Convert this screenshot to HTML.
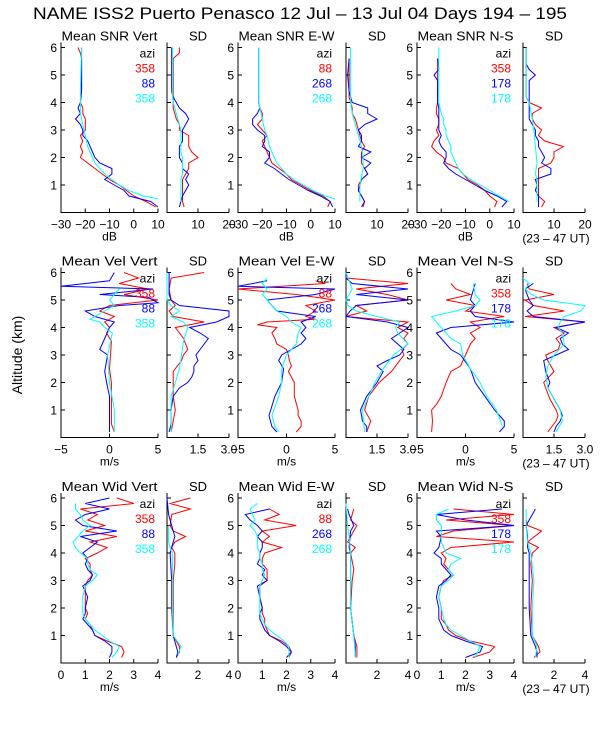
<!DOCTYPE html>
<html><head><meta charset="utf-8">
<style>
body{margin:0;background:#fff;}
svg{display:block;font-family:"Liberation Sans",sans-serif;}
</style></head>
<body>
<svg id="chart" width="600" height="750" viewBox="0 0 600 750">
<rect width="600" height="750" fill="#fff"/>
<text x="33" y="19" font-size="16.5" textLength="534" lengthAdjust="spacingAndGlyphs">NAME ISS2 Puerto Penasco  12 Jul – 13 Jul 04 Days 194 – 195</text>
<text x="0" y="0" font-size="14" text-anchor="middle" transform="translate(22,355) rotate(-90)">Altitude (km)</text>
</svg>
<script>
// ---- data: each series is [altitude_km, value] pairs ----
const snrVertRed=[[0.2,9],[0.4,5],[0.6,0],[0.8,-3],[1.0,-6],[1.2,-10],[1.4,-13],[1.6,-16],[1.8,-19],[2.0,-22],[2.2,-21],[2.4,-22],[2.6,-21],[2.8,-22],[3.0,-20],[3.2,-20],[3.4,-20],[3.6,-21],[3.8,-21],[4.0,-22],[4.4,-21.5],[5.0,-21.5],[5.6,-21.5],[5.8,-22],[6.0,-23]];
const snrVertBlue=[[0.2,10],[0.4,7],[0.6,-2],[0.8,-4],[1.0,-8],[1.2,-12],[1.4,-9],[1.6,-9],[1.8,-14],[2.0,-16],[2.2,-17],[2.4,-18],[2.6,-19],[2.8,-21],[3.0,-21],[3.2,-22],[3.4,-24],[3.6,-22],[3.8,-23],[4.0,-22],[4.5,-21.5],[5.5,-21.5],[6.0,-21.5]];
const snrVertCyan=[[0.5,10],[0.6,4],[0.8,-2],[1.0,-6],[1.2,-9],[1.4,-12],[1.6,-14],[1.8,-16],[2.0,-17],[2.2,-18],[2.4,-19],[2.6,-19.5],[2.8,-20],[3.0,-20.5],[3.2,-21],[3.4,-21.5],[3.6,-22],[4.5,-22],[6.0,-21.5]];
const sdSnrVertRed=[[0.2,5.5],[0.4,5],[0.8,5],[1.2,5],[1.4,6],[1.6,7],[1.8,7],[2.0,10],[2.2,8],[2.4,7],[2.6,7],[2.8,7],[3.0,4],[3.2,4],[3.4,3],[3.6,2.5],[3.8,2],[4.0,2],[5.6,2],[5.8,4],[6.0,4]];
const sdSnrVertBlue=[[0.2,4],[0.4,4.5],[0.6,5],[0.8,6],[1.0,7],[1.2,6],[1.4,7],[1.6,5],[1.8,5],[2.0,4],[2.2,4],[2.4,4],[2.6,5],[2.8,5],[3.0,5],[3.2,6],[3.4,7],[3.6,6],[3.8,4],[4.0,3],[4.2,2],[4.4,1.5],[6.0,1.5]];
const sdSnrVertCyan=[[0.4,4.5],[1.2,4.5],[1.4,5],[2.0,5],[2.2,4.5],[3.0,4.5],[3.2,4],[3.4,3.5],[3.6,3],[3.8,2.5],[4.0,2],[4.2,1.8],[6.0,1.8]];
const snrEWRed=[[0.2,7],[0.4,8],[0.6,5],[0.8,0],[1.0,-4],[1.2,-8],[1.4,-10],[1.6,-13],[1.8,-16],[2.0,-17],[2.2,-18],[2.4,-19],[2.6,-20],[2.8,-18],[3.0,-20],[3.2,-22],[3.4,-20],[3.6,-20],[3.8,-21],[4.0,-21.5],[6.0,-21.5]];
const snrEWBlue=[[0.2,9],[0.4,8],[0.6,4],[0.8,-1],[1.0,-5],[1.2,-9],[1.4,-12],[1.6,-15],[1.8,-19],[2.0,-17],[2.2,-17],[2.4,-20],[2.6,-19],[2.8,-19],[3.0,-22],[3.2,-24],[3.4,-24],[3.6,-22],[3.8,-21],[4.0,-21.5],[6.0,-21.5]];
const snrEWCyan=[[0.5,10],[0.6,6],[0.8,1],[1.0,-3],[1.2,-7],[1.4,-10],[1.6,-12],[1.8,-14],[2.0,-15],[2.2,-16],[2.4,-17],[2.6,-17.5],[2.8,-18],[3.0,-19],[3.2,-19.5],[3.4,-20],[3.6,-20.5],[3.8,-21],[4.0,-21.5],[6.0,-21.5]];
const sdSnrEWRed=[[0.2,5.5],[0.4,6],[0.6,5],[0.8,4],[1.0,4],[1.2,5],[1.4,7],[1.6,6],[1.8,5],[2.0,5],[2.2,5],[2.4,6],[2.6,5],[2.8,4.5],[3.0,4],[3.2,3.5],[3.4,3],[3.6,2],[3.8,2],[4.0,1.5],[4.2,1],[5.6,1]];
const sdSnrEWBlue=[[0.2,5],[0.4,6],[0.6,5],[0.8,4],[1.0,4.5],[1.2,5],[1.4,7],[1.6,6],[1.8,8],[2.0,5],[2.2,8],[2.4,4],[2.6,5],[2.8,5],[3.0,4],[3.2,6],[3.4,10],[3.6,7],[3.8,7],[4.0,2],[4.2,1.5],[4.4,1],[5.0,0.5],[5.6,1]];
const sdSnrEWCyan=[[0.4,4.5],[1.0,4.5],[1.6,5.5],[2.0,5.5],[2.4,5],[2.8,4],[3.2,3],[3.6,2],[4.0,1.5],[6.0,1.5]];
const snrNSRed=[[0.2,2],[0.4,3],[0.6,0],[0.8,-2],[1.0,-5],[1.2,-9],[1.4,-11],[1.6,-13],[1.8,-18],[2.0,-19],[2.2,-22],[2.4,-24],[2.6,-23],[2.8,-21],[3.0,-22],[3.2,-21],[3.4,-21],[3.6,-22],[3.8,-22],[4.0,-21.5],[5.6,-21.5]];
const snrNSBlue=[[0.2,5],[0.4,7],[0.6,3],[0.8,-2],[1.0,-6],[1.2,-10],[1.4,-14],[1.6,-17],[1.8,-19],[2.0,-18],[2.2,-18],[2.4,-20],[2.6,-21],[2.8,-20],[3.0,-21],[3.8,-21],[4.0,-21.5],[4.8,-21.5],[5.0,-23],[5.2,-21],[5.6,-21.5]];
const snrNSCyan=[[0.4,8],[0.6,4],[0.8,0],[1.0,-4],[1.2,-8],[1.4,-11],[1.6,-13],[1.8,-14],[2.0,-15],[2.2,-16],[2.4,-16],[2.6,-17],[2.8,-18],[3.0,-18],[3.2,-19],[3.4,-19],[3.6,-20],[3.8,-20.5],[4.0,-21],[6.0,-21]];
const sdSnrNSRed=[[0.2,6],[0.4,7],[0.6,5],[1.6,5],[1.8,9],[2.0,10],[2.2,10],[2.4,13],[2.6,7],[2.8,5],[3.0,6],[3.2,4],[3.4,3],[3.6,3],[3.8,6],[4.0,2],[4.2,1],[6.0,1]];
const sdSnrNSBlue=[[0.2,5],[0.6,5],[0.8,4],[1.0,4.5],[1.2,4],[1.4,9],[1.6,9],[1.8,6],[2.0,7],[2.2,6],[2.4,5],[2.6,5],[2.8,4],[3.0,4],[3.2,3],[3.4,2],[4.8,2],[5.0,4],[5.2,2],[5.4,1],[6.0,1]];
const sdSnrNSCyan=[[0.4,4.5],[1.2,4.5],[1.4,4],[1.8,4.5],[2.4,4],[3.0,3.5],[3.4,3],[4.0,2],[4.2,1],[6.0,1]];
const velVertRed=[[0.2,0.5],[0.5,0.2],[2.0,0.2],[2.5,0],[3.0,0.1],[3.5,0.2],[3.8,-0.3],[4.0,0],[4.2,-0.5],[4.4,0.5],[4.6,-1],[4.8,0],[5.0,5],[5.2,1.5],[5.4,4],[5.6,1],[5.8,3],[6.0,1.5]];
const velVertBlue=[[0.2,0],[1.0,0],[1.5,0],[2.0,-0.3],[2.4,-0.5],[3.0,-0.2],[3.2,-1],[3.6,-0.5],[4.0,0],[4.2,0.5],[4.4,-1.5],[4.6,-2.5],[4.8,1],[4.9,5],[5.1,4],[5.2,-1],[5.4,4.5],[5.5,-5],[5.7,0],[6.0,0.5]];
const velVertCyan=[[0.2,0.5],[1.0,0.5],[2.0,0],[3.0,-0.2],[3.8,0.3],[4.0,-0.5],[4.2,-1],[4.3,-2],[4.4,-1.5],[4.6,-0.5],[4.8,0.5],[5.0,0],[5.2,0.5],[5.4,1]];
const sdVelVertRed=[[0.2,0.2],[1.0,0.4],[1.5,0.3],[2.4,0.3],[2.6,0.5],[2.8,0.7],[3.0,0.8],[3.2,1.0],[3.4,0.9],[3.6,0.8],[3.8,0.6],[4.0,0.4],[4.2,1.8],[4.4,0.3],[4.6,0.1],[4.8,0.4],[5.0,0.2],[5.4,0.1],[5.8,0.2],[6.0,1.8]];
const sdVelVertBlue=[[0.2,0.1],[0.5,0.2],[1.0,0.2],[1.5,0.3],[1.8,0.6],[2.0,1.0],[2.2,1.2],[2.4,1.3],[2.6,1.3],[2.8,1.5],[3.0,1.4],[3.2,1.6],[3.4,1.8],[3.6,2.0],[3.8,1.6],[4.0,1.1],[4.2,2.4],[4.4,3.0],[4.6,3.0],[4.8,0.6],[5.0,0.2],[5.2,0.1],[6.0,0.1]];
const sdVelVertCyan=[[0.2,0.2],[1.5,0.2],[2.0,0.4],[2.5,0.6],[3.0,0.7],[3.5,0.8],[4.0,1.0],[4.2,0.8],[4.4,0.2],[4.6,0.6],[4.8,0.2],[5.0,0],[6.0,0]];
const velEWRed=[[0.2,1],[0.4,1.5],[0.6,1.5],[0.8,1.2],[1.0,1.2],[1.5,0.8],[2.0,0.8],[2.4,0.2],[2.6,0.5],[2.8,0.3],[3.0,0.2],[3.2,0],[3.4,-1],[3.6,-1.2],[3.8,-1.5],[4.0,-1],[4.1,-3],[4.2,-2],[4.3,3],[4.4,2],[4.6,3],[4.8,2],[5.0,5],[5.2,1],[5.4,-5],[5.6,4],[5.7,3]];
const velEWBlue=[[0.2,-1],[0.4,-1.5],[0.8,-1.8],[1.5,-1.2],[2.0,-0.5],[2.5,-0.3],[2.8,-0.8],[3.0,-0.5],[3.2,0.5],[3.4,1.5],[3.6,2],[3.8,1.5],[4.0,2],[4.2,1.5],[4.4,3],[4.6,-1],[4.8,-1.5],[5.0,-2],[5.2,3],[5.4,5],[5.5,-5],[5.7,-2]];
const velEWCyan=[[0.2,-0.8],[0.4,-1.2],[0.8,-1.5],[1.5,-0.8],[2.0,-0.5],[2.5,-0.5],[3.0,0],[3.4,1],[3.8,1.2],[4.0,1.5],[4.2,0.5],[4.4,0],[4.6,-1],[4.8,-1.5],[5.0,-2],[5.2,-2.5],[5.4,-2],[5.6,-2.5],[5.8,-2]];
const sdVelEWRed=[[0.2,1],[0.4,1.1],[0.6,1.2],[1.0,0.9],[1.5,1.1],[2.0,1.6],[2.4,2.2],[2.8,2.6],[3.0,2.8],[3.2,2.7],[3.4,3.0],[3.6,2.8],[3.8,3.0],[4.0,2.5],[4.2,3.0],[4.4,0],[4.6,1.0],[4.8,0.5],[5.0,3.0],[5.2,2.0],[5.4,0.5],[5.6,3.0],[5.8,0]];
const sdVelEWBlue=[[0.2,1.0],[0.4,1.0],[0.6,0.8],[1.0,0.7],[1.5,1.0],[2.0,1.5],[2.4,1.8],[2.6,1.5],[2.8,2.0],[3.0,2.6],[3.2,2.8],[3.4,2.5],[3.6,2.2],[3.8,2.6],[4.0,3.0],[4.2,2.0],[4.4,0],[4.6,0.2],[4.8,0.5],[5.0,3.0],[5.2,0.5],[5.4,3.0],[5.6,0.3],[5.8,0],[6.0,0]];
const sdVelEWCyan=[[0.2,0.9],[1.0,0.8],[1.5,1.1],[2.0,1.4],[2.5,1.8],[3.0,2.3],[3.4,3.0],[3.8,2.5],[4.0,2.4],[4.2,2.6],[4.4,1.5],[4.6,0.5],[4.8,0.1],[5.0,0],[5.4,0.3],[5.8,0.1],[6.0,0]];
const velNSRed=[[0.2,-3.5],[0.6,-3.4],[1.0,-3.5],[1.2,-3],[1.5,-2.5],[2.0,-2],[2.4,-1.5],[2.6,-0.5],[3.0,0],[3.4,0.5],[3.6,1],[3.8,0.5],[4.0,1.5],[4.2,0.5],[4.4,4],[4.6,0],[4.8,1],[5.0,-2],[5.2,0.5],[5.4,-1],[5.6,-1.5]];
const velNSBlue=[[0.2,3.5],[0.4,4],[0.6,4],[1.0,3],[1.5,2],[2.0,1],[2.5,0.5],[3.0,-0.5],[3.2,-1.5],[3.4,-2],[3.6,-2.5],[3.8,-3],[4.0,-1.5],[4.2,5],[4.4,1],[4.6,0.5],[4.8,1],[5.0,0.5],[5.6,1]];
const velNSCyan=[[0.4,3.8],[1.0,3.2],[1.5,2.2],[2.0,1.5],[2.5,0.5],[3.0,-0.3],[3.4,-0.5],[3.6,-1.5],[3.8,-2],[4.0,-2.5],[4.2,-3],[4.4,-3.5],[4.6,-1],[4.8,1],[5.0,1.5],[5.2,1],[5.6,0.8]];
const sdVelNSRed=[[0.2,1.2],[0.4,1.4],[0.6,1.6],[0.8,1.7],[1.0,1.6],[1.4,1.3],[1.8,1.1],[2.0,1.0],[2.4,1.5],[2.8,1.2],[3.0,1.1],[3.2,1.7],[3.4,1.8],[3.6,1.6],[3.8,2.0],[4.0,1.5],[4.2,3.0],[4.4,0.1],[4.6,2.0],[4.8,0.5],[5.0,0.1],[5.2,1.5],[5.4,0.3],[5.6,0.2]];
const sdVelNSBlue=[[0.2,1.5],[0.4,1.6],[0.6,1.8],[0.8,1.9],[1.0,1.8],[1.4,1.5],[1.8,1.2],[2.0,1.3],[2.4,1.1],[2.8,1.0],[3.0,1.6],[3.2,2.2],[3.4,1.9],[3.6,1.8],[3.8,2.2],[4.0,1.6],[4.2,3.0],[4.4,0.5],[4.6,0.2],[4.8,0.5],[5.0,0.3],[5.4,0.1],[5.6,0.5]];
const sdVelNSCyan=[[0.2,1.6],[0.6,1.9],[1.0,1.8],[1.4,1.5],[1.8,1.2],[2.2,1.1],[2.6,1.2],[3.0,1.5],[3.4,2.0],[3.8,1.9],[4.0,1.7],[4.2,1.8],[4.4,2.0],[4.6,2.8],[4.8,3.0],[5.0,1.0],[5.2,0.4],[5.4,0.1],[5.6,0.3],[5.8,0]];
const widVertRed=[[0.2,2.5],[0.4,2.6],[0.6,2.5],[0.8,1.9],[1.0,1.4],[1.2,1.3],[1.4,1.2],[1.6,1.0],[1.8,1.1],[2.0,1.0],[2.4,1.0],[2.8,1.0],[3.0,1.1],[3.2,1.3],[3.4,1.2],[3.6,1.2],[3.8,1.0],[4.0,1.5],[4.2,1.9],[4.4,1.2],[4.6,2.3],[4.8,1.0],[5.0,1.8],[5.2,1.1],[5.4,1.5],[5.6,0.8],[5.8,3.0],[6.0,2.3]];
const widVertBlue=[[0.2,2.0],[0.4,2.1],[0.6,2.1],[0.8,1.8],[1.0,1.4],[1.2,1.3],[1.4,1.1],[1.6,0.9],[1.8,1.0],[2.0,1.0],[2.4,1.1],[2.8,0.9],[3.0,1.2],[3.2,1.3],[3.4,1.1],[3.6,1.0],[3.8,1.1],[4.0,0.9],[4.2,1.2],[4.4,1.5],[4.6,0.8],[4.8,2.3],[5.0,0.9],[5.2,0.6],[5.4,1.0],[5.6,2.0],[5.8,1.0],[6.0,2.0]];
const widVertCyan=[[0.2,2.1],[0.4,2.3],[0.6,2.4],[0.8,2.0],[1.0,1.7],[1.2,1.4],[1.4,1.2],[1.6,1.0],[1.8,0.9],[2.0,0.9],[2.4,0.9],[2.8,1.0],[3.0,1.3],[3.2,1.5],[3.4,1.2],[3.6,1.1],[3.8,1.1],[4.0,0.8],[4.2,0.6],[4.4,0.5],[4.6,0.7],[4.8,0.9],[5.0,1.2],[5.2,0.9],[5.4,0.8],[5.6,0.6],[5.8,0.6]];
const sdWidVertRed=[[0.2,0.6],[0.4,0.8],[0.6,0.8],[1.0,0.4],[2.0,0.4],[3.0,0.4],[3.6,0.5],[4.0,0.5],[4.2,0.3],[4.4,0.5],[4.6,1.2],[4.8,0.4],[5.0,0.2],[5.4,0.3],[5.6,1.5],[5.8,0.2],[6.0,1.5]];
const sdWidVertBlue=[[0.2,0.6],[0.4,0.7],[1.0,0.4],[2.0,0.3],[3.0,0.3],[4.0,0.2],[4.4,0.4],[4.6,0.5],[5.0,0.3],[5.4,0.1],[6.0,0]];
const sdWidVertCyan=[[0.3,0.7],[0.6,0.9],[1.0,0.4],[2.0,0.35],[4.0,0.35],[4.2,0.2],[4.4,0.1],[5.0,0.1]];
const widEWRed=[[0.2,2.1],[0.4,2.2],[0.6,2.1],[0.8,1.8],[1.0,1.3],[1.2,1.2],[1.4,1.1],[1.6,1.1],[1.8,1.0],[2.0,1.0],[2.4,0.9],[2.8,0.9],[3.0,1.2],[3.2,1.2],[3.4,1.2],[3.6,1.0],[3.8,1.0],[4.0,1.1],[4.2,1.8],[4.4,1.0],[4.6,1.3],[4.8,1.0],[5.0,2.4],[5.2,1.1],[5.4,1.7],[5.6,1.3]];
const widEWBlue=[[0.2,2.0],[0.4,2.2],[0.6,2.0],[0.8,1.7],[1.0,1.3],[1.2,1.1],[1.4,1.0],[1.6,0.9],[1.8,0.9],[2.0,1.0],[2.4,0.9],[2.8,0.8],[3.0,1.2],[3.2,1.0],[3.4,1.1],[3.6,0.8],[3.8,0.9],[4.0,0.9],[4.2,1.0],[4.4,1.0],[4.6,0.8],[4.8,1.0],[5.0,0.8],[5.2,0.5],[5.4,0.3],[5.6,1.3]];
const widEWCyan=[[0.2,2.1],[0.6,2.1],[0.8,1.9],[1.0,1.6],[1.2,1.3],[1.4,1.1],[1.6,1.0],[1.8,0.9],[2.8,0.9],[3.0,1.0],[3.2,1.1],[3.4,1.0],[3.6,1.0],[3.8,0.9],[4.0,0.9],[4.2,0.8],[4.6,0.8],[4.8,0.7],[5.0,0.5],[5.2,0.7],[5.4,0.6],[5.6,0.5],[5.8,0.8]];
const sdWidEWRed=[[0.2,0.7],[0.6,0.7],[1.0,0.5],[2.0,0.3],[3.0,0.4],[3.4,0.5],[4.0,0.3],[4.2,0.6],[4.4,0.1],[5.0,0.7],[5.2,0.3],[5.6,0.5]];
const sdWidEWBlue=[[0.2,0.6],[0.6,0.6],[1.0,0.5],[2.0,0.3],[4.0,0.3],[4.2,0.2],[4.8,0.3],[5.0,0.5],[5.4,0.2],[5.6,0.1]];
const sdWidEWCyan=[[0.2,0.6],[1.0,0.5],[2.0,0.3],[4.0,0.3],[4.6,0.2],[5.0,0.1],[5.8,0]];
const widNSRed=[[0.2,2.3],[0.4,3.0],[0.6,3.2],[0.8,2.2],[1.0,1.6],[1.2,1.3],[1.4,1.2],[1.6,1.0],[2.0,1.0],[2.4,0.9],[2.8,1.0],[3.0,1.1],[3.2,1.5],[3.4,1.3],[3.6,1.1],[3.8,1.2],[4.0,1.0],[4.2,1.4],[4.4,4.0],[4.6,0.8],[4.8,1.5],[5.0,4.0],[5.2,1.2],[5.4,4.0],[5.6,1.5]];
const widNSBlue=[[0.2,2.0],[0.4,2.6],[0.6,2.7],[0.8,2.0],[1.0,1.4],[1.2,1.1],[1.4,1.0],[1.6,0.9],[2.0,0.9],[2.4,0.8],[2.8,0.9],[3.0,1.2],[3.2,1.4],[3.4,1.2],[3.6,1.0],[3.8,1.0],[4.0,0.7],[4.2,0.9],[4.6,1.0],[4.8,0.8],[5.0,4.0],[5.2,2.0],[5.4,0.8],[5.6,3.5]];
const widNSCyan=[[0.2,2.4],[0.4,2.5],[0.6,2.6],[0.8,2.2],[1.0,1.8],[1.2,1.4],[1.4,1.2],[1.6,1.1],[2.0,1.0],[2.4,0.9],[2.8,1.0],[3.0,1.3],[3.2,1.5],[3.4,1.3],[3.6,1.4],[3.8,1.8],[4.0,1.2],[4.2,1.1],[4.4,1.0],[5.0,1.0],[5.2,0.8],[5.4,0.8],[5.6,1.3]];
const sdWidNSRed=[[0.2,0.7],[0.4,1.1],[0.6,1.0],[0.8,0.8],[1.0,0.6],[2.0,0.5],[3.0,0.6],[3.6,0.5],[4.0,0.6],[4.2,1.0],[4.4,0.3],[4.8,1.2],[5.0,0.3],[5.2,0.2]];
const sdWidNSBlue=[[0.2,0.9],[0.4,0.9],[0.6,0.8],[1.0,0.5],[2.0,0.4],[4.0,0.4],[4.2,0.3],[4.6,0.3],[5.0,0.2],[5.6,0.8]];
const sdWidNSCyan=[[0.2,0.8],[0.6,0.9],[1.0,0.6],[2.0,0.6],[3.0,0.7],[4.0,0.5],[4.4,0.3],[5.0,0.2],[5.6,0.2]];

const panelTitles=[["Mean SNR Vert","SD","Mean SNR E-W","SD","Mean SNR N-S","SD"],
 ["Mean Vel Vert","SD","Mean Vel E-W","SD","Mean Vel N-S","SD"],
 ["Mean Wid Vert","SD","Mean Wid E-W","SD","Mean Wid N-S","SD"]];
const legendAzi=[["358","88","358"],["88","268","268"],["358","178","178"]];
const meanRange=[[-30,10],[-5,5],[0,4]];
const sdRange=[[0,20],[0,3],[0,4]];
const meanTicks=[[-30,-20,-10,0,10],[-5,0,5],[0,1,2,3,4]];
const meanTickLabels=[["−30","−20","−10","0","10"],["−5","0","5"],["0","1","2","3","4"]];
const sdTicks=[[10,20],[1.5,3],[2,4]];
const sdTickLabels=[["10","20"],["1.5","3.0"],["2","4"]];
const units=["dB","m/s","m/s"];
const rowSeries=[
 [[snrVertRed,snrVertBlue,snrVertCyan],[sdSnrVertRed,sdSnrVertBlue,sdSnrVertCyan],[snrEWRed,snrEWBlue,snrEWCyan],[sdSnrEWRed,sdSnrEWBlue,sdSnrEWCyan],[snrNSRed,snrNSBlue,snrNSCyan],[sdSnrNSRed,sdSnrNSBlue,sdSnrNSCyan]],
 [[velVertRed,velVertBlue,velVertCyan],[sdVelVertRed,sdVelVertBlue,sdVelVertCyan],[velEWRed,velEWBlue,velEWCyan],[sdVelEWRed,sdVelEWBlue,sdVelEWCyan],[velNSRed,velNSBlue,velNSCyan],[sdVelNSRed,sdVelNSBlue,sdVelNSCyan]],
 [[widVertRed,widVertBlue,widVertCyan],[sdWidVertRed,sdWidVertBlue,sdWidVertCyan],[widEWRed,widEWBlue,widEWCyan],[sdWidEWRed,sdWidEWBlue,sdWidEWCyan],[widNSRed,widNSBlue,widNSCyan],[sdWidNSRed,sdWidNSBlue,sdWidNSCyan]]
];

// ---- layout ----
const svg=document.getElementById('chart');
const NS='http://www.w3.org/2000/svg';
const colors=['#ff0000','#0000ff','#00ffff'];
const colNames=['red','blue','cyan'];
const meanLeft=[61,238,417], sdLeft=[167,346,523];
const meanW=97, sdW=62;
const rowBottom=[212.5,437.5,663];
const kmPx=27.5;
function mk(tag,attrs,name,text){
  const el=document.createElementNS(NS,tag);
  for(const k in attrs) el.setAttribute(k,attrs[k]);
  
  
  if(text!==undefined) el.textContent=text;
  svg.appendChild(el); return el;
}
for(let r=0;r<3;r++){
  const yb=rowBottom[r];
  const yS=a=>yb-a*kmPx;
  for(let c=0;c<3;c++){
    for(let k=0;k<2;k++){
      const isMean=k===0;
      const x0=isMean?meanLeft[c]:sdLeft[c];
      const w=isMean?meanW:sdW;
      const rng=isMean?meanRange[r]:sdRange[r];
      const xS=v=>x0+(v-rng[0])/(rng[1]-rng[0])*w;
      const tag=(r+1)+'-'+(c+1)+(isMean?'-mean':'-sd');
      const tAttrs={x:x0+w/2,y:yb-172,'font-size':13,'text-anchor':'middle'};
      if(isMean){tAttrs.textLength=96;tAttrs.lengthAdjust='spacingAndGlyphs';}
      mk('text',tAttrs,'panel-title-'+tag,panelTitles[r][c*2+k]);
      mk('path',{d:`M${x0} ${yb-170}V${yb}H${x0+w}`,fill:'none',stroke:'#000','stroke-width':1},'axes-'+tag);
      for(let km=1;km<=6;km++){
        mk('line',{x1:x0,x2:x0+4,y1:yS(km),y2:yS(km),stroke:'#000'},'y-tick-'+tag);
        if(isMean) mk('text',{x:x0-4,y:yS(km)+4.5,'font-size':12,'text-anchor':'end'},'y-tick-label-'+tag,String(km));
      }
      const ticks=isMean?meanTicks[r]:sdTicks[r];
      const tl=isMean?meanTickLabels[r]:sdTickLabels[r];
      ticks.forEach((t,i)=>{
        mk('line',{x1:xS(t),x2:xS(t),y1:yb,y2:yb-4,stroke:'#000'},'x-tick-'+tag);
        mk('text',{x:xS(t),y:yb+16,'font-size':12,'text-anchor':'middle'},'x-tick-label-'+tag,tl[i]);
      });
      if(isMean) mk('text',{x:x0+w/2,y:yb+28,'font-size':12,'text-anchor':'middle'},'x-axis-title-'+tag,units[r]);
      const ser=rowSeries[r][c*2+k];
      ser.forEach((s,si)=>{
        const d=s.map((p,i)=>(i?'L':'M')+xS(p[1]).toFixed(1)+' '+yS(p[0]).toFixed(1)).join('');
        mk('path',{d:d,fill:'none',stroke:colors[si],'stroke-width':1},'series-'+colNames[si]+'-'+tag);
      });
      if(isMean){
        const lx=x0+w-3, ly=yb-155;
        mk('text',{x:lx,y:ly,'font-size':12,'text-anchor':'end'},'legend-title-'+tag,'azi');
        legendAzi[c].forEach((a,i)=>mk('text',{x:lx,y:ly+15*(i+1),'font-size':12,'text-anchor':'end',fill:colors[i]},'legend-entry-'+colNames[i]+'-'+tag,a));
      }
    }
  }
  mk('text',{x:556,y:yb+30,'font-size':12,'text-anchor':'middle'},'time-range-note-row'+(r+1),'(23 – 47 UT)');
}
</script>
</body></html>
